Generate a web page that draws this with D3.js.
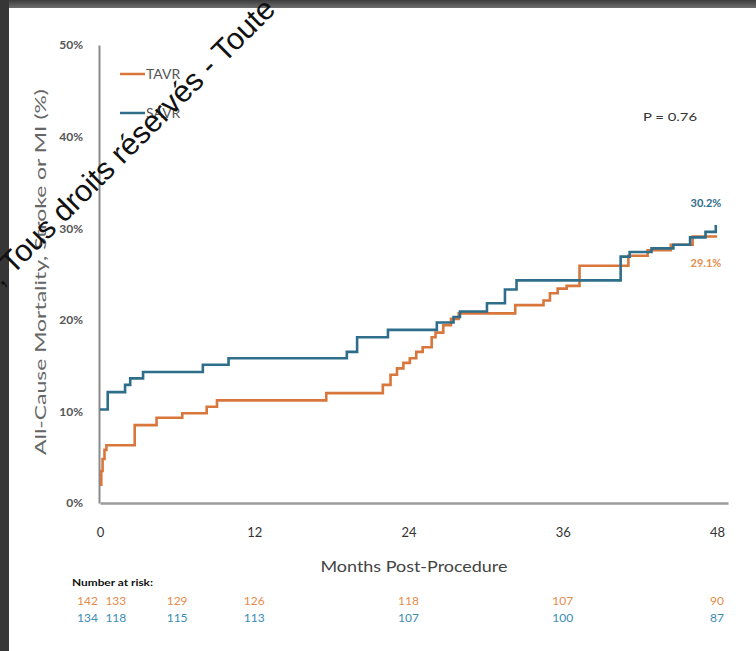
<!DOCTYPE html>
<html><head><meta charset="utf-8">
<script src="https://cdn.jsdelivr.net/npm/d3@7"></script>
<style>body{margin:0;background:#fff}svg{display:block}</style>
</head><body>
<script>
// ---- data ----
const seriesNames = ["TAVR", "SAVR"];
const tavrMonths = [0, 0.1, 0.2, 0.35, 0.5, 2.7, 4.4, 6.4, 8.3, 9.1, 17.6, 22.0, 22.6, 23.1, 23.6, 24.1, 24.6, 25.1, 25.8, 26.1, 26.7, 27.3, 27.9, 32.3, 34.5, 35.0, 35.6, 36.3, 37.3, 41.1, 42.6, 44.4, 46.1, 48];
const tavrPct    = [2.0, 3.5, 4.8, 5.8, 6.3, 8.5, 9.3, 9.8, 10.5, 11.2, 12.0, 12.9, 14.0, 14.7, 15.3, 15.8, 16.5, 17.0, 18.1, 18.6, 19.4, 20.1, 20.7, 21.6, 22.1, 22.9, 23.4, 23.7, 25.9, 27.0, 27.6, 28.2, 29.1, 29.1];
const savrMonths = [0, 0.6, 1.95, 2.35, 3.35, 8.0, 10.0, 19.2, 20.0, 22.4, 26.2, 27.5, 28.0, 30.1, 31.5, 32.4, 40.5, 41.2, 42.9, 44.6, 45.9, 47.1, 47.9, 48];
const savrPct    = [10.2, 12.1, 12.9, 13.6, 14.3, 15.1, 15.8, 16.5, 18.1, 18.9, 19.7, 20.3, 20.9, 21.8, 23.3, 24.3, 26.9, 27.4, 27.8, 28.2, 29.0, 29.6, 30.2, 30.2];
const xTicks = [0, 12, 24, 36, 48];
const yTicks = [0, 10, 20, 30, 40, 50];
const riskMonths = [0, 1, 6, 12, 24, 36, 48];
const riskTAVR = [142, 133, 129, 126, 118, 107, 90];
const riskSAVR = [134, 118, 115, 113, 107, 100, 87];
const finalLabels = ["29.1%", "30.2%"];
const pValueText = "P = 0.76";
const xTitle = "Months Post-Procedure";
const yTitle = "All-Cause Mortality, Stroke or MI (%)";
const riskTitle = "Number at risk:";
const watermark = ", Tous droits réservés - Toute";

// ---- styles ----
const W = 756, H = 651;
const cOrange = "#d8763b", cBlue = "#2e6e8b";
const cOrangeTxt = "#e58c4c", cBlueTxt = "#3a8cb6";
const font = "Lato, 'Open Sans', sans-serif";

const svg = d3.select("body").append("svg").attr("width", W).attr("height", H)
  .style("font-family", font);
svg.append("rect").attr("width", W).attr("height", H).attr("fill", "#fff");

// frame
const grad = svg.append("defs").append("linearGradient").attr("id", "tg").attr("x1", 0).attr("y1", 0).attr("x2", 0).attr("y2", 1);
grad.append("stop").attr("offset", "0").attr("stop-color", "#3c3c3c");
grad.append("stop").attr("offset", "1").attr("stop-color", "#6e6e6e");
svg.append("rect").attr("x", 0).attr("y", 0).attr("width", W).attr("height", 8).attr("fill", "url(#tg)");
svg.append("rect").attr("x", 0).attr("y", 0).attr("width", 9).attr("height", H).attr("fill", "#363636");

const x = d3.scaleLinear().domain([0, 48.85]).range([100, 728]);
const y = d3.scaleLinear().domain([0, 50]).range([503, 45]);

// y axis
const ya = svg.append("g").attr("transform", "translate(99,0)")
  .call(d3.axisLeft(y).tickValues(yTicks).tickSize(0).tickSizeOuter(0).tickPadding(16).tickFormat(d => d + "%"));
ya.select(".domain").attr("stroke", "#8a8a8a").attr("stroke-width", 2);
ya.selectAll("text").attr("font-size", 12).attr("font-weight", 700).attr("fill", "#555").attr("font-family", font);

// x axis
const xa = svg.append("g").attr("transform", "translate(0,503)")
  .call(d3.axisBottom(x).tickValues(xTicks).tickSize(0).tickSizeOuter(0).tickPadding(25));
xa.select(".domain").attr("stroke", "#9a9a9a").attr("stroke-width", 2.5);
xa.selectAll("text").attr("font-size", 13).attr("fill", "#333").attr("font-family", font);

// titles
svg.append("text").attr("x", 414).attr("y", 572).attr("text-anchor", "middle")
  .attr("font-size", 16).attr("fill", "#444").attr("textLength", 187).attr("lengthAdjust", "spacingAndGlyphs").text(xTitle);
svg.append("text").attr("transform", "translate(46,272) rotate(-90)").attr("text-anchor", "middle")
  .attr("font-size", 16).attr("fill", "#666").attr("textLength", 366).attr("lengthAdjust", "spacingAndGlyphs").text(yTitle);

// curves
const line = d3.line().x(d => x(d[0])).y(d => y(d[1])).curve(d3.curveStepAfter);
const tavr = tavrMonths.map((m, i) => [m, tavrPct[i]]);
const savr = savrMonths.map((m, i) => [m, savrPct[i]]);
svg.append("path").datum(tavr).attr("d", line).attr("fill", "none").attr("stroke", cOrange).attr("stroke-width", 2.6);
svg.append("path").datum(savr).attr("d", line).attr("fill", "none").attr("stroke", cBlue).attr("stroke-width", 2.6);

// legend
const leg = [[seriesNames[0], cOrange, 74], [seriesNames[1], cBlue, 113]];
leg.forEach(([name, col, ly]) => {
  svg.append("line").attr("x1", 120).attr("x2", 145).attr("y1", ly).attr("y2", ly).attr("stroke", col).attr("stroke-width", 2.5);
  svg.append("text").attr("x", 146).attr("y", ly + 5).attr("font-size", 14).attr("fill", "#555").text(name);
});

// P-value
svg.append("text").attr("x", 670).attr("y", 121).attr("text-anchor", "middle").attr("font-size", 12)
  .attr("fill", "#333").attr("textLength", 54).attr("lengthAdjust", "spacingAndGlyphs").text(pValueText);

// final labels
const tEnd = tavr[tavr.length - 1], sEnd = savr[savr.length - 1];
svg.append("text").attr("x", 706).attr("y", y(sEnd[1]) - 19).attr("text-anchor", "middle").attr("font-size", 11)
  .attr("font-weight", 700).attr("fill", cBlue).text(finalLabels[1]);
svg.append("text").attr("x", 706).attr("y", y(tEnd[1]) + 31).attr("text-anchor", "middle").attr("font-size", 11)
  .attr("font-weight", 700).attr("fill", cOrangeTxt).text(finalLabels[0]);

// number at risk
svg.append("text").attr("x", 72).attr("y", 586).attr("font-size", 10).attr("font-weight", 700).attr("fill", "#111")
  .attr("textLength", 81).attr("lengthAdjust", "spacingAndGlyphs").text(riskTitle);
[[riskTAVR, cOrangeTxt, 605], [riskSAVR, cBlueTxt, 622]].forEach(([vals, col, ry]) => {
  svg.append("g").selectAll("text").data(vals).join("text")
    .attr("x", (d, i) => i === 0 ? x(riskMonths[i]) - 2 : x(riskMonths[i]) + (i === 1 ? 3 : 0))
    .attr("y", ry)
    .attr("text-anchor", (d, i) => i === 0 ? "end" : "middle")
    .attr("font-size", 12).attr("fill", col).text(d => d);
});

// watermark
svg.append("text").attr("transform", "translate(1,287) rotate(-45)")
  .attr("font-family", "'Liberation Sans', Arial, sans-serif").attr("font-size", 30.5).attr("fill", "#111")
  .text(watermark);
</script>
</body></html>
